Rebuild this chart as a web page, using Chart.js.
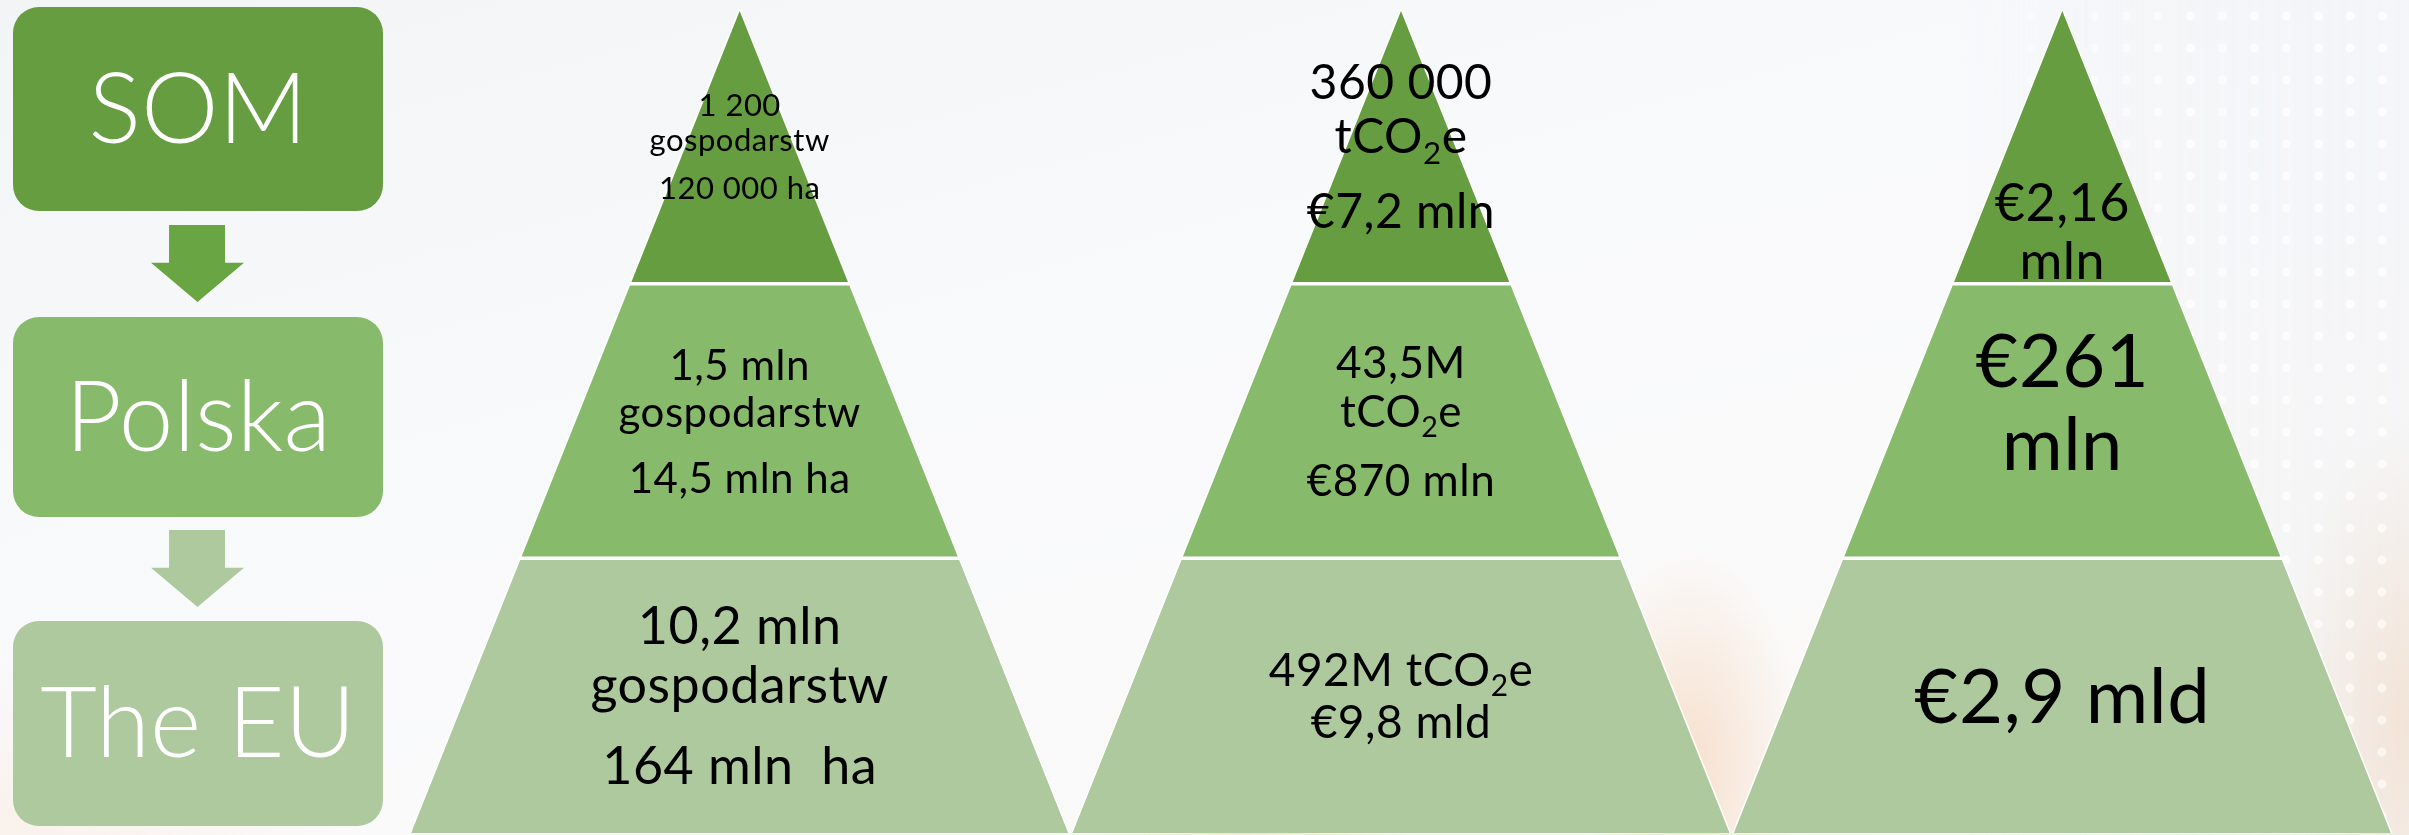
<!DOCTYPE html>
<html>
<head>
<meta charset="utf-8">
<script src="https://cdn.jsdelivr.net/npm/chart.js@4.4.1/dist/chart.umd.min.js"></script>
<style>
  html, body { margin: 0; padding: 0; }
  body {
    width: 2409px; height: 835px; overflow: hidden; position: relative;
    font-family: Lato, "Open Sans", sans-serif;
    background:
      radial-gradient(ellipse 240px 330px at 1250px 835px, rgba(245,212,184,0.55), rgba(245,212,184,0) 70%),
      radial-gradient(ellipse 160px 300px at 1690px 760px, rgba(243,200,165,0.5), rgba(243,200,165,0) 70%),
      radial-gradient(ellipse 180px 420px at 2409px 720px, rgba(240,198,160,0.45), rgba(240,198,160,0) 70%),
      radial-gradient(ellipse 500px 260px at 0px 835px, rgba(250,236,224,0.6), rgba(250,236,224,0) 70%),
      linear-gradient(165deg, #f2f4f6 0%, #f8f9fb 35%, #fafafb 60%, #fbf8f5 100%);
  }
  .dots {
    position: absolute; left: 1950px; top: 0; width: 459px; height: 835px;
    background:
      radial-gradient(circle, rgba(255,255,255,0.9) 4px, rgba(255,255,255,0) 5px) 0 0 / 32px 32px,
      rgba(228,232,238,0.35);
    -webkit-mask-image: linear-gradient(90deg, rgba(0,0,0,0) 0%, rgba(0,0,0,0.55) 50%, rgba(0,0,0,0.7) 100%);
    mask-image: linear-gradient(90deg, rgba(0,0,0,0) 0%, rgba(0,0,0,0.55) 50%, rgba(0,0,0,0.7) 100%);
  }
  .level {
    position: absolute; left: 13px; width: 370px; border-radius: 26px;
    color: #fff; text-align: center; font-size: 98px; font-weight: 300;
  }
  .arrow {
    position: absolute; left: 151px; width: 93px; height: 77px;
    clip-path: polygon(19.4% 0, 79.6% 0, 79.6% 49%, 100% 49%, 50% 100%, 0 49%, 19.4% 49%);
  }
  #pyramids { position: absolute; left: 409px; top: 9px; }
</style>
</head>
<body>
<div class="dots"></div>
<div id="levels"></div>
<canvas id="pyramids" width="1984" height="824"></canvas>
<script>
// tiers, top to bottom
const levels = ["SOM", "Polska", "The EU"];

// text of each tier, as paragraphs of lines
const farms = [
  [["1 200", "gospodarstw"], ["120 000 ha"]],
  [["1,5 mln", "gospodarstw"], ["14,5 mln ha"]],
  [["10,2 mln", "gospodarstw"], ["164 mln  ha"]]
];
const emissions = [
  [["360 000", "tCO₂e"], ["€7,2 mln"]],
  [["43,5M", "tCO₂e"], ["€870 mln"]],
  [["492M tCO₂e", "€9,8 mld"]]
];
const values = [
  [["€2,16", "mln"]],
  [["€261", "mln"]],
  [["€2,9 mld"]]
];

const pyramids = [farms, emissions, values];

// styling
const tierColors = ["#669d40", "#88ba6c", "#adc99d"];
const arrowColors = ["#6aa544", "#adc99d"];
const fontSizes = [[31, 42, 52], [48, 44, 46], [52, 74, 76]];
const textShift = [[0, 0, 0], [0, 0, 0], [85, -19, 0]];
const HALF_BASE = 0.498;

// left column boxes + arrows
const boxTop = [7, 317, 621], boxHeight = [204, 200, 205], arrowTop = [225, 530];
const levelsEl = document.getElementById("levels");
levels.forEach((name, i) => {
  const d = document.createElement("div");
  d.className = "level";
  d.style.top = boxTop[i] + "px";
  d.style.height = boxHeight[i] + "px";
  d.style.lineHeight = (boxHeight[i] - 8) + "px";
  d.style.background = tierColors[i];
  d.textContent = name;
  levelsEl.appendChild(d);
  if (i < arrowTop.length) {
    const a = document.createElement("div");
    a.className = "arrow";
    a.style.top = arrowTop[i] + "px";
    a.style.background = arrowColors[i];
    levelsEl.appendChild(a);
  }
});

const halfWidth = y => HALF_BASE * (3 - y) / 3;

// one filled band per pyramid tier (left side -> top -> right side),
// plus a white divider where two tiers meet
const datasets = [];
pyramids.forEach((tiers, p) => {
  const cx = p + 0.5;
  tiers.forEach((_, t) => {
    const y0 = 2 - t, y1 = 3 - t;
    const pts = [{ x: cx - halfWidth(y0), y: y0 }, { x: cx - halfWidth(y1), y: y1 }];
    if (halfWidth(y1) > 0) pts.push({ x: cx + halfWidth(y1), y: y1 });
    pts.push({ x: cx + halfWidth(y0), y: y0 });
    datasets.push({
      data: pts,
      backgroundColor: tierColors[t],
      borderColor: "#ffffff",
      borderWidth: 1.5,
      fill: "shape",
      order: 2,
      pointRadius: 0,
      tension: 0,
      clip: false
    });
    if (t > 0) {
      datasets.push({
        data: [{ x: cx - halfWidth(y1), y: y1 }, { x: cx + halfWidth(y1), y: y1 }],
        borderColor: "#ffffff",
        borderWidth: 3.5,
        fill: false,
        order: 1,
        pointRadius: 0,
        clip: false
      });
    }
  });
});

function drawLine(ctx, text, cx, baseline, size) {
  const parts = text.split(/(₂)/).filter(s => s.length);
  const font = s => `400 ${s}px Lato, "Open Sans", sans-serif`;
  const subSize = size * 0.65;
  let w = 0;
  parts.forEach(s => { ctx.font = font(s === "₂" ? subSize : size); w += ctx.measureText(s === "₂" ? "2" : s).width; });
  let xx = cx - w / 2;
  parts.forEach(s => {
    const sub = s === "₂";
    ctx.font = font(sub ? subSize : size);
    const txt = sub ? "2" : s;
    ctx.fillText(txt, xx, baseline + (sub ? size * 0.22 : 0));
    xx += ctx.measureText(txt).width;
  });
}

const pyramidText = {
  id: "pyramidText",
  afterDatasetsDraw(chart) {
    const { ctx, scales: { x, y } } = chart;
    ctx.save();
    ctx.fillStyle = "#000";
    ctx.textAlign = "left";
    ctx.textBaseline = "alphabetic";
    ctx.letterSpacing = "0.5px";
    pyramids.forEach((tiers, p) => tiers.forEach((paras, t) => {
      const s = fontSizes[p][t];
      const lines = [];
      let off = 0;
      paras.forEach(para => para.forEach((line, j) => {
        if (lines.length) off += (j === 0 ? 1.56 : 1.13) * s;
        lines.push({ line, off });
      }));
      const total = 0.72 * s + off;
      const cx = x.getPixelForValue(p + 0.5);
      const cy = y.getPixelForValue(2.5 - t) + textShift[p][t];
      const base0 = cy - total / 2 + 0.72 * s;
      lines.forEach(l => drawLine(ctx, l.line, cx, base0 + l.off, s));
    }));
    ctx.restore();
  }
};

new Chart(document.getElementById("pyramids"), {
  type: "line",
  data: { datasets },
  plugins: [pyramidText],
  options: {
    responsive: false,
    animation: false,
    layout: { padding: 0 },
    plugins: { legend: { display: false }, tooltip: { enabled: false } },
    scales: {
      x: { type: "linear", min: 0, max: 3, display: false },
      y: { type: "linear", min: 0, max: 3, display: false }
    }
  }
});
</script>
</body>
</html>
